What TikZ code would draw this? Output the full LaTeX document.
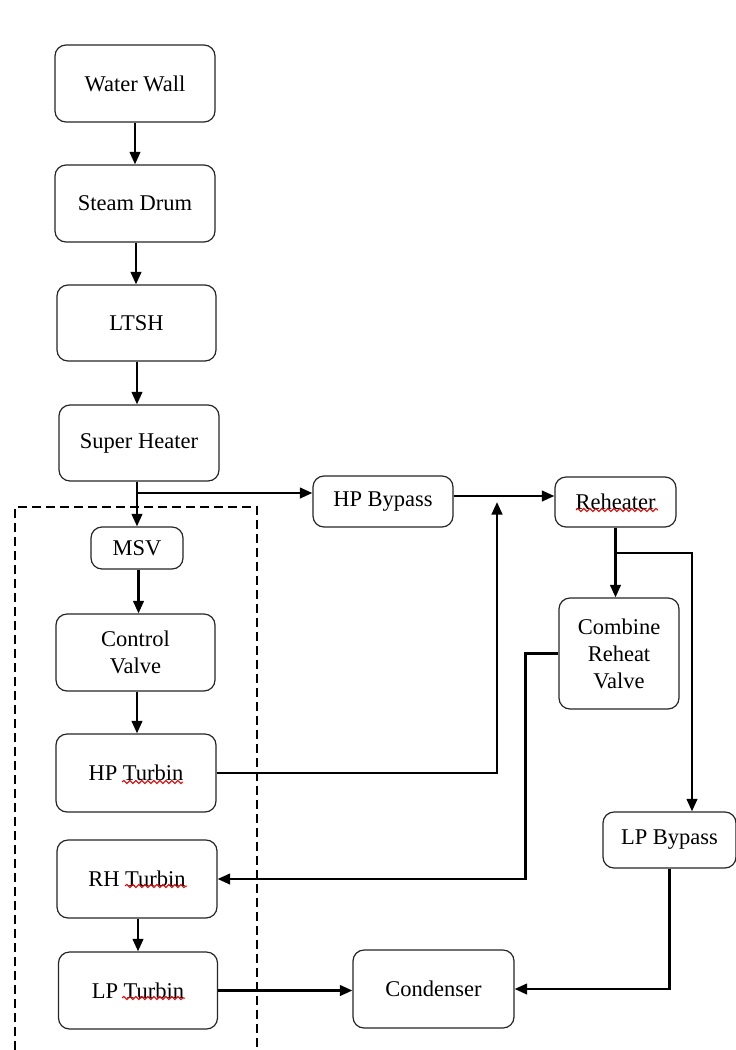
\documentclass[tikz,border=0pt]{standalone}
\usepackage{fontspec}
\setmainfont{Liberation Serif}
\usetikzlibrary{arrows.meta,decorations.pathmorphing,calc}
\begin{document}
\begin{tikzpicture}[x=1pt,y=-1pt,
  box/.style={draw=black!85, line width=1.2pt, rounded corners=11pt, align=center,
    inner sep=0pt, font=\fontsize{22.5}{27}\selectfont},
  flow/.style={line width=2.5pt, -{Triangle[length=12.5pt,width=10.5pt]}},
  spell/.style={draw=red!90!black, line width=1pt, decorate,
    decoration={snake, amplitude=1.6pt, segment length=6pt}},
  frame/.style={line width=1.2pt, dash pattern=on 9pt off 5pt}]
\useasboundingbox (0,0) rectangle (736,1050);
\fill[white] (0,0) rectangle (736,1050);

% boiler side, top to bottom
\node[box, minimum width=160pt, minimum height=77pt] (ww)  at (135,83.5)  {Water Wall};
\node[box, minimum width=160pt, minimum height=77pt] (sd)  at (135,203.5) {Steam Drum};
\node[box, minimum width=159pt, minimum height=76pt] (lt)  at (136.5,323) {LTSH};
\node[box, minimum width=160pt, minimum height=76pt] (sh)  at (139,443)   {Super Heater};

% turbine island
\node[box, minimum width=92pt,  minimum height=42pt] (msv) at (137,548)   {MSV};
\node[box, minimum width=159pt, minimum height=77pt] (cv)  at (135.5,652.5) {Control\\Valve};
\node[box, minimum width=160pt, minimum height=78pt] (hpt) at (136,773)   {HP Turbin};
\node[box, minimum width=160pt, minimum height=78pt] (rht) at (137,879)   {RH Turbin};
\node[box, minimum width=159pt, minimum height=77pt] (lpt) at (138,990.5) {LP Turbin};

% bypass and reheat path
\node[box, minimum width=140pt, minimum height=51pt]  (hpb)  at (383,501.5)   {HP Bypass};
\node[box, minimum width=121pt, minimum height=50pt]  (reh)  at (615.5,502)   {Reheater};
\node[box, minimum width=120pt, minimum height=111pt] (crv)  at (619,653.5)   {Combine\\Reheat\\Valve};
\node[box, minimum width=133pt, minimum height=56pt]  (lpb)  at (669.5,840)   {LP Bypass};
\node[box, minimum width=161pt, minimum height=78pt]  (cond) at (433.5,989)   {Condenser};

% turbine island boundary (open at the bottom)
\draw[frame] (15,1050) -- (15,507) -- (257,507) -- (257,1050);

% auxiliary points
\coordinate (split) at (137,493);
\coordinate (hpline) at (0,496);
\coordinate (hpret) at (497,502);
\coordinate (rsplit) at (615.5,553);
\coordinate (rturn) at (692,553);

% main steam line
\draw[flow] (ww.south) -- (ww.south |- sd.north);
\draw[flow] (sd.south -| 136,0) -- (lt.north -| 136,0);
\draw[flow] (lt.south -| 137,0) -- (sh.north -| 137,0);
\draw[flow] (msv.north |- sh.south) -- (msv.north);
\draw[flow] (split) -- (hpb.west |- split);
\draw[flow] (msv.south -| 138.5,0) -- (cv.north -| 138.5,0);
\draw[flow] (cv.south -| 137,0) -- (hpt.north -| 137,0);
\draw[flow] (rht.south -| 138,0) -- (lpt.north -| 138,0);

% reheat circuit
\draw[flow] (hpb.east |- hpline) -- (reh.west |- hpline);
\draw[flow] (hpt.east) -| (hpret);
\draw[flow] (reh.south) -- (reh.south |- crv.north);
\draw[flow] (rsplit) -- (rturn) -- (rturn |- lpb.north);
\draw[flow] (crv.west) -- ++(-33,0) |- (rht.east);

% exhaust to condenser
\draw[flow] (lpb.south) |- (cond.east);
\draw[flow] (lpt.east) -- (cond.west |- lpt.east);

% spell-check marks under words
\draw[spell] ($(hpt.center)+(-14,9)$) -- ($(hpt.center)+(47,9)$);
\draw[spell] ($(rht.center)+(-12,7)$) -- ($(rht.center)+(50,7)$);
\draw[spell] ($(lpt.center)+(-16,7.5)$) -- ($(lpt.center)+(47,7.5)$);
\draw[spell] ($(reh.center)+(-39.5,8)$) -- ($(reh.center)+(42.5,8)$);
\end{tikzpicture}
\end{document}
